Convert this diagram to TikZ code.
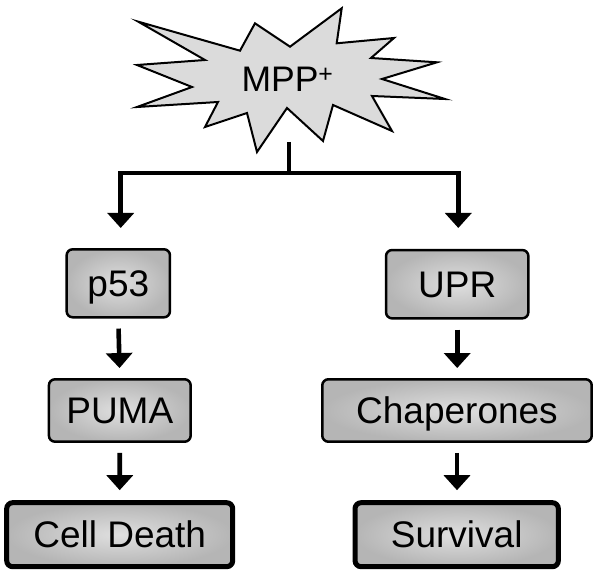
\documentclass[tikz,border=0pt]{standalone}
\usepackage{fontspec}
\setmainfont{Liberation Sans}
\usetikzlibrary{arrows.meta}
\begin{document}
\begin{tikzpicture}[x=1pt,y=-1pt,
  boxbase/.style={rectangle, rounded corners=6pt, draw=black, line width=2.5pt,
    inner color=gray!25, outer color=gray!58, inner sep=0pt,
    font=\fontsize{37}{40}\selectfont, text height=26.4pt, text depth=0pt},
  thickbox/.style={boxbase, line width=5pt},
  arr/.style={line width=4.6pt, -{Triangle[width=26pt,length=15pt]}},
  link/.style={line width=4.6pt}
]
\useasboundingbox (0,0) rectangle (600,577);

% starburst
\draw[fill=gray!28, line width=2pt, line join=miter]
 (138.3,21.7) -- (240,50.7) -- (255,23.3) -- (290,46.7) -- (341.7,8.3) -- (336.7,43.3)
 -- (394,38) -- (371,58) -- (437,62.3) -- (382,79) -- (445,99) -- (372,96)
 -- (392,131) -- (333,105) -- (323,141) -- (287,108) -- (257,152) -- (247,113)
 -- (205,127) -- (218,102) -- (137,107) -- (192,87) -- (137,65) -- (205,60) -- cycle;
\node[anchor=base, inner sep=0pt, font=\fontsize{35.5}{40}\selectfont] (mpp) at (287.5,91.7) {MPP\textsuperscript{+}};

% boxes
\node[boxbase, minimum width=103.3pt, minimum height=68pt] (p53) at (118.3,283.3) {p53};
\node[boxbase, minimum width=141.7pt, minimum height=62.4pt] (puma) at (119.8,410.5) {PUMA};
\node[thickbox, minimum width=226pt, minimum height=64pt] (death) at (119.7,534.7) {Cell Death};
\node[boxbase, minimum width=142.3pt, minimum height=68.3pt] (upr) at (457.2,284.2) {UPR};
\node[boxbase, minimum width=269.4pt, minimum height=62.4pt] (chap) at (457,410.5) {Chaperones};
\node[thickbox, minimum width=203.3pt, minimum height=64pt] (surv) at (456.7,534.7) {Survival};

% connectors
\coordinate (bb) at (289,142);
\coordinate (j) at (289,173);
\coordinate (ltop) at (120.7,228);
\coordinate (rtop) at (458.3,228);
\draw[link] (bb) -- (j);
\draw[arr, line join=miter] (j) -| (ltop);
\draw[arr, line join=miter] (j) -| (rtop);
\draw[arr, shorten <=10pt, shorten >=10pt] (p53.south) -- (puma.north);
\draw[arr, shorten <=10pt, shorten >=10pt] (puma.south) -- (death.north);
\draw[arr, shorten <=10pt, shorten >=10pt] (upr.south) -- (upr.south |- chap.north);
\draw[arr, shorten <=10pt, shorten >=10pt] (chap.south) -- (chap.south |- surv.north);
\end{tikzpicture}
\end{document}
